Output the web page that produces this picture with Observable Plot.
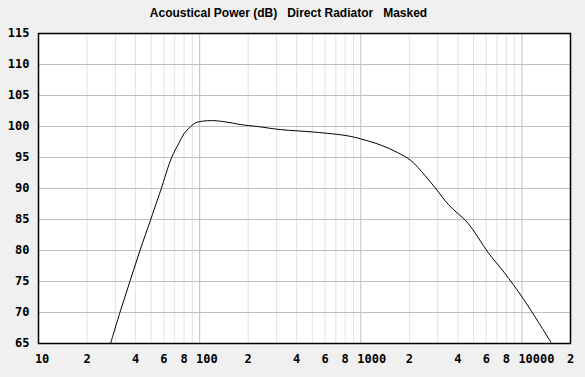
<!DOCTYPE html>
<html><head><meta charset="utf-8">
<script src="https://cdn.jsdelivr.net/npm/d3@7"></script>
<script src="https://cdn.jsdelivr.net/npm/@observablehq/plot@0.6"></script>
<style>
html,body{margin:0;padding:0;background:#f0f0f0;overflow:hidden;}
svg text{white-space:pre;}
</style></head><body><div id="chart"></div>
<script>
const title = "Acoustical Power (dB)   Direct Radiator   Masked";
const freq = [28, 32, 36.9, 42.6, 49.7, 54.6, 57.8, 67, 74.3, 79.8, 88, 94.4, 104, 120, 135, 160, 180, 228, 318, 513, 826, 1000, 1331, 1690, 2047, 2500, 2925, 3524, 4625, 6154, 7730, 10140, 15130];
const spl  = [65, 70, 75, 80, 85, 88.1, 90, 95, 97.3, 98.8, 100, 100.6, 100.86, 100.95, 100.85, 100.55, 100.3, 100.0, 99.5, 99.1, 98.5, 98.0, 97.0, 95.8, 94.5, 92.1, 89.95, 87.3, 84.4, 79.7, 76.5, 72.3, 65.2];
const xTicks = [10, 20, 40, 60, 80, 100, 200, 400, 600, 800, 1000, 2000, 4000, 6000, 8000, 10000, 20000];
const xTickLabels = ["10", "2", "4", "6", "8", "100", "2", "4", "6", "8", "1000", "2", "4", "6", "8", "10000", "2"];
const yTicks = [65, 70, 75, 80, 85, 90, 95, 100, 105, 110, 115];
const minorGrid = [20, 30, 40, 50, 60, 70, 80, 90, 200, 300, 400, 500, 600, 700, 800, 900, 2000, 3000, 4000, 5000, 6000, 7000, 8000, 9000];
const majorGrid = [100, 1000, 10000];
const hGrid = [70, 75, 80, 85, 90, 95, 100, 105, 110];

const data = freq.map((f, i) => ({f, db: spl[i]}));
const xLabelData = xTicks.map((v, i) => ({v, label: xTickLabels[i]}));
const tickFont = "DejaVu Sans Mono";

const chart = Plot.plot({
  width: 585, height: 377,
  marginTop: 33, marginLeft: 38, marginRight: 15, marginBottom: 34,
  style: {background: "#f0f0f0", fontFamily: tickFont, fontSize: "12px", fontWeight: "bold", color: "#000", overflow: "visible"},
  x: {type: "log", domain: [10, 20000], axis: null},
  y: {domain: [65, 115], axis: null},
  marks: [
    Plot.frame({fill: "white", stroke: "none"}),
    Plot.ruleX(minorGrid, {stroke: "#e3e3e3", strokeWidth: 1}),
    Plot.ruleX(majorGrid, {stroke: "#c0c0c0", strokeWidth: 1}),
    Plot.ruleY(hGrid, {stroke: "#c0c0c0", strokeWidth: 1}),
    Plot.line(data, {x: "f", y: "db", curve: "catmull-rom", stroke: "black", strokeWidth: 1, clip: true}),
    Plot.frame({stroke: "black", strokeWidth: 1.5}),
    Plot.text(xLabelData, {x: "v", text: "label", frameAnchor: "bottom", dy: 16, lineAnchor: "middle", textAnchor: "start", dx: -3.6, fill: "black"}),
    Plot.axisY(yTicks, {tickSize: 0, tickPadding: 9, label: null}),
    Plot.text([title], {frameAnchor: "top", dy: -25, dx: -16, fontFamily: "Liberation Sans", fontWeight: "bold", fontSize: 12, fill: "black"})
  ]
});
document.getElementById("chart").appendChild(chart);
</script></body></html>
